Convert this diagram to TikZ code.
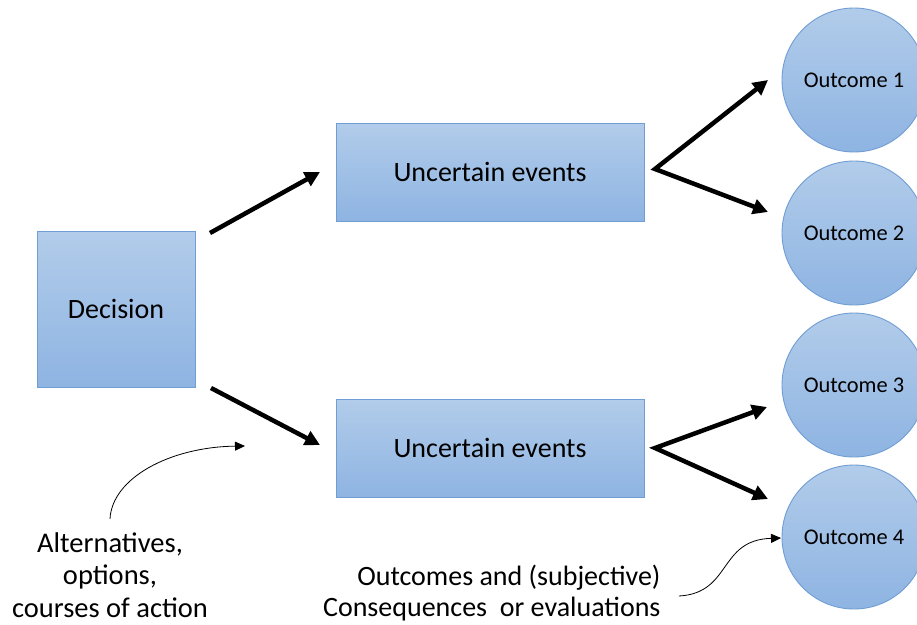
\documentclass[tikz,border=0pt]{standalone}
\usepackage{fontspec}
\setmainfont{Carlito}
\usetikzlibrary{arrows.meta}
\definecolor{boxtop}{RGB}{178,204,234}
\definecolor{boxbot}{RGB}{142,180,226}
\definecolor{boxedge}{RGB}{112,157,212}
\begin{document}
\begin{tikzpicture}[x=1pt,y=-1pt,
  blueshade/.style={draw=boxedge, line width=0.9pt, top color=boxtop, bottom color=boxbot},
  stepbox/.style={blueshade, rectangle, inner sep=0pt, font=\fontsize{28}{32}\selectfont},
  outcome/.style={blueshade, circle, minimum size=144pt, inner sep=0pt, font=\fontsize{22.4}{26}\selectfont},
  bigarrow/.style={line width=4.5pt, line join=miter, -{Triangle[length=15pt,width=15pt]}},
  forkarrow/.style={line width=4.5pt, line join=miter, {Triangle[length=15pt,width=15pt]}-{Triangle[length=15pt,width=15pt]}},
  notearrow/.style={line width=0.8pt, -{Triangle[length=10pt,width=9pt]}},
  notetext/.style={font=\fontsize{28.5}{32.5}\selectfont}
]
\useasboundingbox (0,0) rectangle (917,624);
\clip (0,0) rectangle (917,624);
\fill[white] (0,0) rectangle (917,624);

% decision and the two chance nodes
\node[stepbox, minimum width=158pt, minimum height=156pt] (dec) at (116,309) {Decision};
\node[stepbox, minimum width=308pt, minimum height=98pt] (ue1) at (490,172) {Uncertain events};
\node[stepbox, minimum width=308pt, minimum height=98pt] (ue2) at (490,448) {Uncertain events};

% outcomes
\node[outcome] (o1) at (854,80) {Outcome 1};
\node[outcome] (o2) at (854,233) {Outcome 2};
\node[outcome] (o3) at (854,385) {Outcome 3};
\node[outcome] (o4) at (854,537) {Outcome 4};

% arrow end points
\coordinate (d1) at (210,233);
\coordinate (d1t) at (320,172);
\coordinate (d2) at (211,388);
\coordinate (d2t) at (320,445);
\coordinate (f1) at (655,169);
\coordinate (f1a) at (768,80);
\coordinate (f1b) at (768,212);
\coordinate (f2) at (655,448);
\coordinate (f2a) at (767,407);
\coordinate (f2b) at (768,499);

\draw[bigarrow] (d1) -- (d1t);
\draw[bigarrow] (d2) -- (d2t);
\draw[forkarrow] (f1a) -- (f1) -- (f1b);
\draw[forkarrow] (f2a) -- (f2) -- (f2b);

% annotations
\node[notetext, align=center] (alt) at (110,575) {Alternatives,\\options,\\courses of action};
\node[notetext, align=right, anchor=east, font=\fontsize{28}{31}\selectfont] (cons) at (664,593) {Outcomes and (subjective)\\Consequences\ \ or evaluations};

\coordinate (n1s) at (110,519);
\coordinate (n1e) at (245,446);
\coordinate (n2s) at (679,596);
\coordinate (n2e) at (781,538);
\draw[notearrow] (n1s) .. controls (112,478) and (170,447) .. (n1e);
\draw[notearrow] (n2s) .. controls (732,593) and (718,540) .. (n2e);
\end{tikzpicture}
\end{document}
